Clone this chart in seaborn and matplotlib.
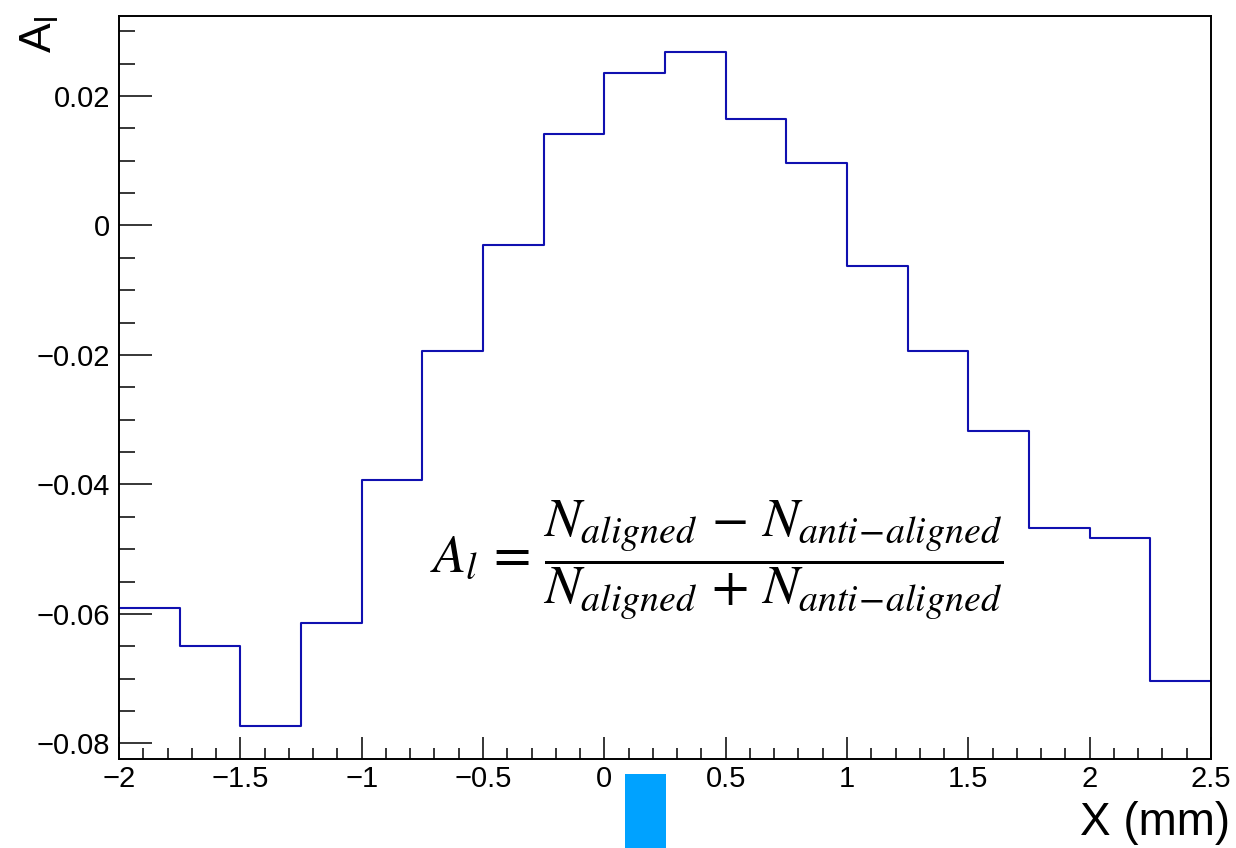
import numpy as np
import pandas as pd
import matplotlib
matplotlib.use("Agg")
import matplotlib.pyplot as plt
import seaborn as sns
from matplotlib.patches import Rectangle
from matplotlib.ticker import MultipleLocator

# ---- data ----
bin_edges = [-2.0, -1.75, -1.5, -1.25, -1.0, -0.75, -0.5, -0.25, 0.0, 0.25,
             0.5, 0.75, 1.0, 1.25, 1.5, 1.75, 2.0, 2.25, 2.5]
asym_values = [-0.0591, -0.0649, -0.0773, -0.0614, -0.0393, -0.0194, -0.0030,
               0.0142, 0.0236, 0.0268, 0.0164, 0.0096, -0.0063, -0.0194,
               -0.0317, -0.0467, -0.0483, -0.0703]
x_ticks = [-2, -1.5, -1, -0.5, 0, 0.5, 1, 1.5, 2, 2.5]
x_tick_labels = ["\u22122", "\u22121.5", "\u22121", "\u22120.5", "0", "0.5", "1", "1.5", "2", "2.5"]
y_ticks = [-0.08, -0.06, -0.04, -0.02, 0, 0.02]
y_tick_labels = ["\u22120.08", "\u22120.06", "\u22120.04", "\u22120.02", "0", "0.02"]
x_label = "X (mm)"
y_label = r"$\mathregular{A_{l}}$"
formula = (r"$A_{l}\,=\,\dfrac{N_{aligned}\,-\,N_{anti\!-\!aligned}}"
           r"{N_{aligned}\,+\,N_{anti\!-\!aligned}}$")

sns.set_style("white")
plt.rcParams["font.family"] = ["Liberation Sans", "DejaVu Sans"]
plt.rcParams["text.color"] = "black"
plt.rcParams["xtick.color"] = "black"
plt.rcParams["ytick.color"] = "black"
plt.rcParams["axes.labelcolor"] = "black"

centers = [(a + b) / 2 for a, b in zip(bin_edges[:-1], bin_edges[1:])]
df = pd.DataFrame({"x": centers, "A": asym_values})

fig = plt.figure(figsize=(12.36, 8.48), dpi=100)
ax = fig.add_axes([119 / 1236, 1 - 759 / 848, (1211 - 119) / 1236, (759 - 15.7) / 848])

sns.histplot(data=df, x="x", weights="A", bins=bin_edges, element="step",
             fill=False, color="#1010b0", linewidth=1.5, ax=ax)

ax.set_xlim(-2, 2.5)
ax.set_ylim(-0.0824, 0.0324)

ax.set_xticks(x_ticks, x_tick_labels)
ax.set_yticks(y_ticks, y_tick_labels)
ax.xaxis.set_minor_locator(MultipleLocator(0.1))
ax.yaxis.set_minor_locator(MultipleLocator(0.005))

ax.tick_params(axis="both", which="both", direction="in", color="black",
               labelcolor="black", width=1.1, labelsize=21,
               bottom=True, left=True, top=False, right=False)
ax.tick_params(axis="y", which="major", length=23.8, pad=6.5)
ax.tick_params(axis="y", which="minor", length=11.5)
ax.tick_params(axis="x", which="major", length=15.8, pad=4)
ax.tick_params(axis="x", which="minor", length=7.9)

for s in ax.spines.values():
    s.set_linewidth(1.4)
    s.set_color("black")

ax.set_ylabel("")
ax.set_xlabel(x_label, fontsize=33, ha="right", va="baseline", color="black")
ax.xaxis.set_label_coords((1230 - 119) / 1092, -0.1022)

ax.text(-0.072, 1.0, y_label, transform=ax.transAxes, rotation=90,
        ha="center", va="top", fontsize=32, color="black")

ax.text(0.4615, -0.0517, formula, ha="center", va="center", fontsize=39,
        math_fontfamily="stix", color="black")

fig.add_artist(Rectangle((625 / 1236, 0), 41 / 1236, (848 - 774) / 848,
                         transform=fig.transFigure, color="#00a2ff", lw=0))

fig.savefig("out.png", dpi=100)
